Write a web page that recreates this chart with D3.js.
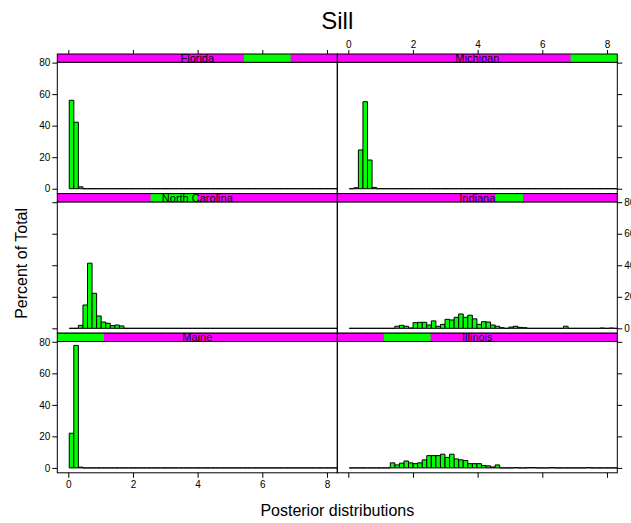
<!DOCTYPE html>
<html><head><meta charset="utf-8">
<script src="https://cdn.jsdelivr.net/npm/d3@7"></script>
<style>body{margin:0;background:#fff}svg{display:block}text{font-family:"Liberation Sans",Arial,Helvetica,sans-serif}</style>
</head><body>
<script>
// ---- data ----
const title = "Sill";
const xLabel = "Posterior distributions";
const yLabel = "Percent of Total";
const stateLevels = ["Maine","Illinois","North Carolina","Indiana","Florida","Michigan"]; // factor level order
const stripSpan = {"Maine":[0,1],"Illinois":[1,2],"North Carolina":[2,3],"Indiana":[3.39,3.98],"Florida":[4,5],"Michigan":[5,6]};
const panelOrder = [["Florida","Michigan"],["North Carolina","Indiana"],["Maine","Illinois"]]; // rows top->bottom
const xTicks = [0,2,4,6,8];
const yTicks = [0,20,40,60,80];
const binStart = 0.03;
const binWidth = 0.141;
const florida = [56.1,42.2,1.2,0,0,0,0,0,0,0, 0,0,0,0,0,0,0,0,0,0, 0,0,0,0,0,0,0,0,0,0, 0,0,0,0,0,0,0,0,0,0, 0,0,0,0,0,0,0,0,0,0, 0,0,0,0,0,0,0,0,0];
const michigan = [0,0.6,24.6,55.2,18.2,0.8,0,0,0,0, 0,0,0,0,0,0,0,0,0,0, 0,0,0,0,0,0,0,0,0,0, 0,0,0,0,0,0,0,0,0,0, 0,0,0,0,0,0,0,0,0,0, 0,0,0,0,0,0,0,0,0];
const northCarolina = [0,0,1.9,14.8,41.3,22.2,7.8,4.0,3.2,1.7, 2.1,1.5,0,0,0,0,0,0,0,0, 0,0,0,0,0,0,0,0,0,0, 0,0,0,0,0,0,0,0,0,0, 0,0,0,0,0,0,0,0,0,0, 0,0,0,0,0,0,0,0,0];
const indiana = [0,0,0,0,0,0,0,0,0,0, 1.3,1.9,1.3,0.2,3.6,3.8,3.8,2.1,4.7,1.3, 2.5,5.7,5.3,7.0,9.1,7.0,8.3,6.0,2.5,4.2, 4.0,2.1,1.3,0.4,0,0.8,1.3,0.6,0.4,0, 0,0,0,0,0,0,0,1.3,0,0, 0,0,0,0,0,0.2,0,0.2,0];
const maine = [22.0,77.7,0.5,0,0,0,0,0,0,0, 0,0,0,0,0,0,0,0,0,0, 0,0,0,0,0,0,0,0,0,0, 0,0,0,0,0,0,0,0,0,0, 0,0,0,0,0,0,0,0,0,0, 0,0,0,0,0,0,0,0,0];
const illinois = [0,0,0,0,0,0,0,0,0,3.2, 1.9,3.0,4.4,3.2,2.7,3.2,5.1,7.8,7.8,7.8, 8.7,6.6,8.7,5.7,5.1,4.7,2.7,2.7,2.7,1.5, 1.3,0.6,1.9,0,0,0,0.2,0,0,0.2, 0.2,0,0,0,0.2,0,0,0,0,0, 0,0,0.2,0,0,0,0,0,0];
const seriesByState = {"Florida":florida,"Michigan":michigan,"North Carolina":northCarolina,"Indiana":indiana,"Maine":maine,"Illinois":illinois};

// ---- layout ----
const W = 631, H = 523;
const left0 = 57.3, panelW = 280.0, top0 = 54, stripH = 8.3, panelH = 131.3, rowPitch = stripH + panelH;
const magenta = "#ff00ff", green = "#00ff00";

const svg = d3.select("body").append("svg").attr("width", W).attr("height", H);
const defs = svg.append("defs");

const xDomain = [-0.34, 8.32];
const yDomain = [-3.1, 80.2];

panelOrder.forEach((row, r) => {
  row.forEach((state, c) => {
    const px = left0 + c * panelW;
    const sy = top0 + r * rowPitch;
    const py = sy + stripH;
    const x = d3.scaleLinear().domain(xDomain).range([px, px + panelW]);
    const y = d3.scaleLinear().domain(yDomain).range([py + panelH, py]);
    const id = "clip" + r + c;
    defs.append("clipPath").attr("id", id).append("rect")
      .attr("x", px).attr("y", py).attr("width", panelW).attr("height", panelH);
    const sid = "sclip" + r + c;
    defs.append("clipPath").attr("id", sid).append("rect")
      .attr("x", px).attr("y", sy).attr("width", panelW).attr("height", stripH);

    // bars
    const vals = seriesByState[state];
    const bins = vals.map((v, i) => ({x0: binStart + i * binWidth, x1: binStart + (i + 1) * binWidth, v}));
    svg.append("g").attr("clip-path", `url(#${id})`).selectAll("path").data(bins).join("path")
      .attr("d", d => `M${x(d.x0)},${y(0)}H${x(d.x1)}V${y(d.v)}H${x(d.x0)}Z`)
      .attr("fill", green).attr("stroke", "#000").attr("stroke-width", 1);

    // panel border
    svg.append("rect").attr("x", px).attr("y", py).attr("width", panelW).attr("height", panelH)
      .attr("fill", "none").attr("stroke", "#000").attr("stroke-width", 1);

    // strip
    const span = stripSpan[state];
    const sx = d3.scaleLinear().domain([0, stateLevels.length]).range([px, px + panelW]);
    const sg = svg.append("g");
    sg.append("rect").attr("x", px).attr("y", sy).attr("width", panelW).attr("height", stripH).attr("fill", magenta);
    sg.append("rect").attr("x", sx(span[0])).attr("y", sy).attr("width", sx(span[1]) - sx(span[0])).attr("height", stripH).attr("fill", green);
    sg.append("text").attr("clip-path", `url(#${sid})`).attr("x", px + panelW / 2).attr("y", sy + stripH / 2 + 4)
      .attr("text-anchor", "middle").attr("font-size", 11).attr("fill", "#000").text(state);
    sg.append("rect").attr("x", px).attr("y", sy).attr("width", panelW).attr("height", stripH)
      .attr("fill", "none").attr("stroke", "#000").attr("stroke-width", 1);

    // y axes
    if (c === 0) {
      const ax = d3.axisLeft(y).tickValues(yTicks).tickSize(5).tickPadding(2)
        .tickFormat(r !== 1 ? d3.format("d") : () => "");
      const g = svg.append("g").attr("transform", `translate(${px},0)`).call(ax);
      g.select(".domain").remove();
    } else {
      const ax = d3.axisRight(y).tickValues(yTicks).tickSize(5).tickPadding(2)
        .tickFormat(r === 1 ? d3.format("d") : () => "");
      const g = svg.append("g").attr("transform", `translate(${px + panelW},0)`).call(ax);
      g.select(".domain").remove();
    }
    // top axis
    if (r === 0) {
      const ax = d3.axisTop(x).tickValues(xTicks).tickSize(4).tickPadding(2)
        .tickFormat(c === 1 ? d3.format("d") : () => "");
      const g = svg.append("g").attr("transform", `translate(0,${sy})`).call(ax);
      g.select(".domain").remove();
    }
    // bottom axis
    if (r === panelOrder.length - 1) {
      const ax = d3.axisBottom(x).tickValues(xTicks).tickSize(5).tickPadding(3)
        .tickFormat(c === 0 ? d3.format("d") : () => "");
      const g = svg.append("g").attr("transform", `translate(0,${py + panelH})`).call(ax);
      g.select(".domain").remove();
    }
  });
});

svg.selectAll(".tick text").attr("font-size", 10).attr("font-family", "Liberation Sans, Arial, sans-serif").attr("fill", "#000");
svg.selectAll(".tick line").attr("stroke", "#000");

const cx = left0 + panelW;
svg.append("text").attr("x", cx).attr("y", 29).attr("text-anchor", "middle").attr("font-size", 24).text(title);
svg.append("text").attr("x", cx).attr("y", 516).attr("text-anchor", "middle").attr("font-size", 16).text(xLabel);
svg.append("text").attr("transform", `translate(27,${top0 + (3 * rowPitch) / 2}) rotate(-90)`)
  .attr("text-anchor", "middle").attr("font-size", 16).text(yLabel);
</script>
</body></html>
